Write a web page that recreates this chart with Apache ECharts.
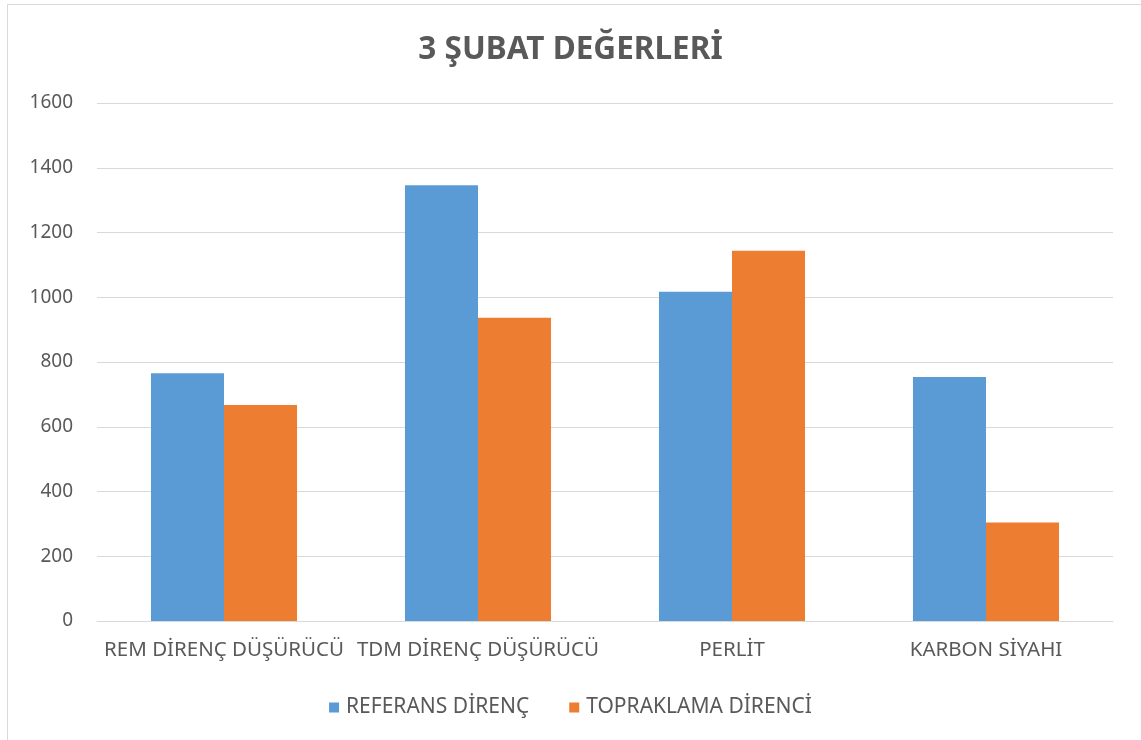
<!DOCTYPE html>
<html>
<head>
<meta charset="utf-8">
<script src="https://cdn.jsdelivr.net/npm/echarts@6/dist/echarts.min.js"></script>
<style>
html,body{margin:0;padding:0;background:#fff;}
#c{width:1141px;height:740px;}
</style>
</head>
<body>
<div id="c"></div>
<script>
const titleText = '3 ŞUBAT DEĞERLERİ';
const categories = ['REM DİRENÇ DÜŞÜRÜCÜ', 'TDM DİRENÇ DÜŞÜRÜCÜ', 'PERLİT', 'KARBON SİYAHI'];
const seriesNames = ['REFERANS DİRENÇ', 'TOPRAKLAMA DİRENCİ'];
const referansValues = [765, 1346, 1017, 754];
const topraklamaValues = [667, 937, 1144, 304];
const colors = ['#5B9BD5', '#ED7D31'];
const FONT = 'Noto Sans';

const chart = echarts.init(document.getElementById('c'), null, {renderer: 'canvas'});
chart.setOption({
  animation: false,
  backgroundColor: '#fff',
  title: {
    text: titleText,
    left: 'center',
    top: 29,
    textStyle: {fontFamily: FONT, fontSize: 31.5, fontWeight: 'bold', color: '#595959'}
  },
  legend: {
    top: 692,
    left: 'center',
    itemWidth: 10,
    itemHeight: 10,
    itemGap: 40,
    icon: 'rect',
    textStyle: {fontFamily: FONT, fontSize: 21, color: '#595959', padding: [0, 0, 0, 2]},
    data: seriesNames
  },
  grid: {left: 97, right: 28, top: 103, bottom: 119, containLabel: false},
  xAxis: {
    type: 'category',
    data: categories,
    axisLine: {show: true, lineStyle: {color: '#d9d9d9', width: 1}},
    axisTick: {show: false},
    axisLabel: {fontFamily: FONT, fontSize: 20.5, color: '#595959', margin: 19, interval: 0}
  },
  yAxis: {
    type: 'value',
    min: 0,
    max: 1600,
    interval: 200,
    axisLine: {show: false},
    axisTick: {show: false},
    splitLine: {lineStyle: {color: '#d9d9d9', width: 1}},
    axisLabel: {fontFamily: FONT, fontSize: 19, color: '#595959', margin: 24, formatter: v => String(v)}
  },
  series: [
    {
      name: seriesNames[0], type: 'bar', data: referansValues,
      barGap: '0%', barCategoryGap: '42.5%',
      itemStyle: {color: colors[0]}
    },
    {
      name: seriesNames[1], type: 'bar', data: topraklamaValues,
      barGap: '0%', barCategoryGap: '42.5%',
      itemStyle: {color: colors[1]}
    }
  ],
  graphic: [
    {type: 'line', shape: {x1: 7.5, y1: 4.5, x2: 1141, y2: 4.5}, style: {stroke: '#d9d9d9', lineWidth: 1}},
    {type: 'line', shape: {x1: 7.5, y1: 4.5, x2: 7.5, y2: 740}, style: {stroke: '#d9d9d9', lineWidth: 1}}
  ]
});
</script>
</body>
</html>
